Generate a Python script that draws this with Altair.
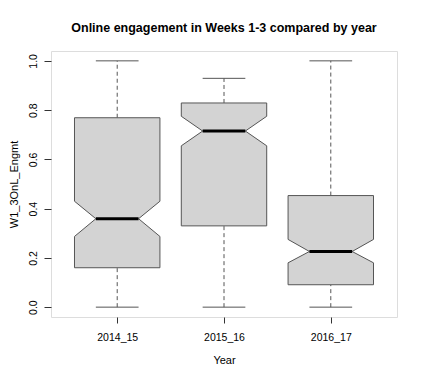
import altair as alt
import pandas as pd

years = ["2014_15", "2015_16", "2016_17"]
w_lo = [0.0, 0.0, 0.0]
q1 = [0.160, 0.330, 0.091]
notch_lo = [0.287, 0.655, 0.180]
median = [0.359, 0.715, 0.226]
notch_hi = [0.430, 0.775, 0.275]
q3 = [0.769, 0.829, 0.453]
w_hi = [1.0, 0.929, 1.0]

HALF = 0.4      # half box width (x units)
NHALF = 0.2     # half notch / staple width

pos = list(range(1, len(years) + 1))

stats = pd.DataFrame({
    "year": years, "pos": pos, "w_lo": w_lo, "q1": q1, "nlo": notch_lo,
    "med": median, "nhi": notch_hi, "q3": q3, "w_hi": w_hi,
})
stats["l_n"] = stats["pos"] - NHALF
stats["r_n"] = stats["pos"] + NHALF

rows = []
for i, yr in enumerate(years):
    c = pos[i]
    outline = [
        (c - HALF, q1[i]), (c - HALF, notch_lo[i]), (c - NHALF, median[i]),
        (c - HALF, notch_hi[i]), (c - HALF, q3[i]), (c + HALF, q3[i]),
        (c + HALF, notch_hi[i]), (c + NHALF, median[i]), (c + HALF, notch_lo[i]),
        (c + HALF, q1[i]), (c - HALF, q1[i]),
    ]
    for k, (xv, yv) in enumerate(outline):
        rows.append({"year": yr, "k": k, "px": float(xv), "py": float(yv)})
poly = pd.DataFrame(rows)

xscale = alt.Scale(domain=[0.38, 3.62], nice=False, zero=False)
yscale = alt.Scale(domain=[-0.04, 1.04], nice=False, zero=False)
FONT = "Liberation Sans"
LINE = "#555555"

label_expr = "datum.value == 1 ? '2014_15' : datum.value == 2 ? '2015_16' : '2016_17'"

x_axis = alt.Axis(values=pos, labelExpr=label_expr, title="Year", grid=False, domain=False,
                  tickSize=6, tickColor="#333333", labelFont=FONT, labelFontSize=10.5,
                  labelColor="#000000", labelPadding=9, titleFont=FONT, titleFontSize=11,
                  titleFontWeight="normal", titleColor="#000000", titlePadding=12)
y_axis = alt.Axis(values=[0, 0.2, 0.4, 0.6, 0.8, 1.0], format=".1f", title="W1_3OnL_Engmt",
                  grid=False, domain=False, tickSize=7, tickColor="#333333",
                  labelAngle=270, labelAlign="center", labelBaseline="bottom",
                  labelFont=FONT, labelFontSize=10.5, labelColor="#000000", labelPadding=6,
                  titleFont=FONT, titleFontSize=11, titleFontWeight="normal",
                  titleColor="#000000", titlePadding=9)

base = alt.Chart(stats)

whisk_hi = base.mark_rule(color=LINE, strokeDash=[4, 3], strokeWidth=1).encode(
    x=alt.X("pos:Q", scale=xscale, axis=x_axis),
    y=alt.Y("q3:Q", scale=yscale, axis=y_axis),
    y2="w_hi:Q",
)
whisk_lo = base.mark_rule(color=LINE, strokeDash=[4, 3], strokeWidth=1).encode(
    x=alt.X("pos:Q", scale=xscale), y=alt.Y("w_lo:Q", scale=yscale), y2="q1:Q",
)
cap_hi = base.mark_rule(color=LINE, strokeWidth=1).encode(
    x=alt.X("l_n:Q", scale=xscale), x2="r_n:Q", y=alt.Y("w_hi:Q", scale=yscale),
)
cap_lo = base.mark_rule(color=LINE, strokeWidth=1).encode(
    x=alt.X("l_n:Q", scale=xscale), x2="r_n:Q", y=alt.Y("w_lo:Q", scale=yscale),
)
boxes = alt.Chart(poly).mark_line(fill="#d3d3d3", stroke=LINE, strokeWidth=1,
                                  interpolate="linear").encode(
    x=alt.X("px:Q", scale=xscale),
    y=alt.Y("py:Q", scale=yscale),
    detail="year:N",
    order="k:Q",
)
med_line = base.mark_rule(color="#000000", strokeWidth=3).encode(
    x=alt.X("l_n:Q", scale=xscale), x2="r_n:Q", y=alt.Y("med:Q", scale=yscale),
)

chart = alt.layer(whisk_hi, whisk_lo, cap_hi, cap_lo, boxes, med_line).properties(
    width=346, height=266,
    title=alt.TitleParams("Online engagement in Weeks 1-3 compared by year", font=FONT,
                          fontSize=12.5, fontWeight="bold", color="#000000",
                          anchor="middle", frame="group", offset=17),
    autosize=alt.AutoSizeParams(type="none"),
    padding={"left": 43, "top": 43, "right": 18, "bottom": 55},
).configure_view(stroke="#333333", strokeWidth=1).configure(background="#ffffff")

chart.save("out.html", embed_options={"renderer": "svg", "actions": False})
